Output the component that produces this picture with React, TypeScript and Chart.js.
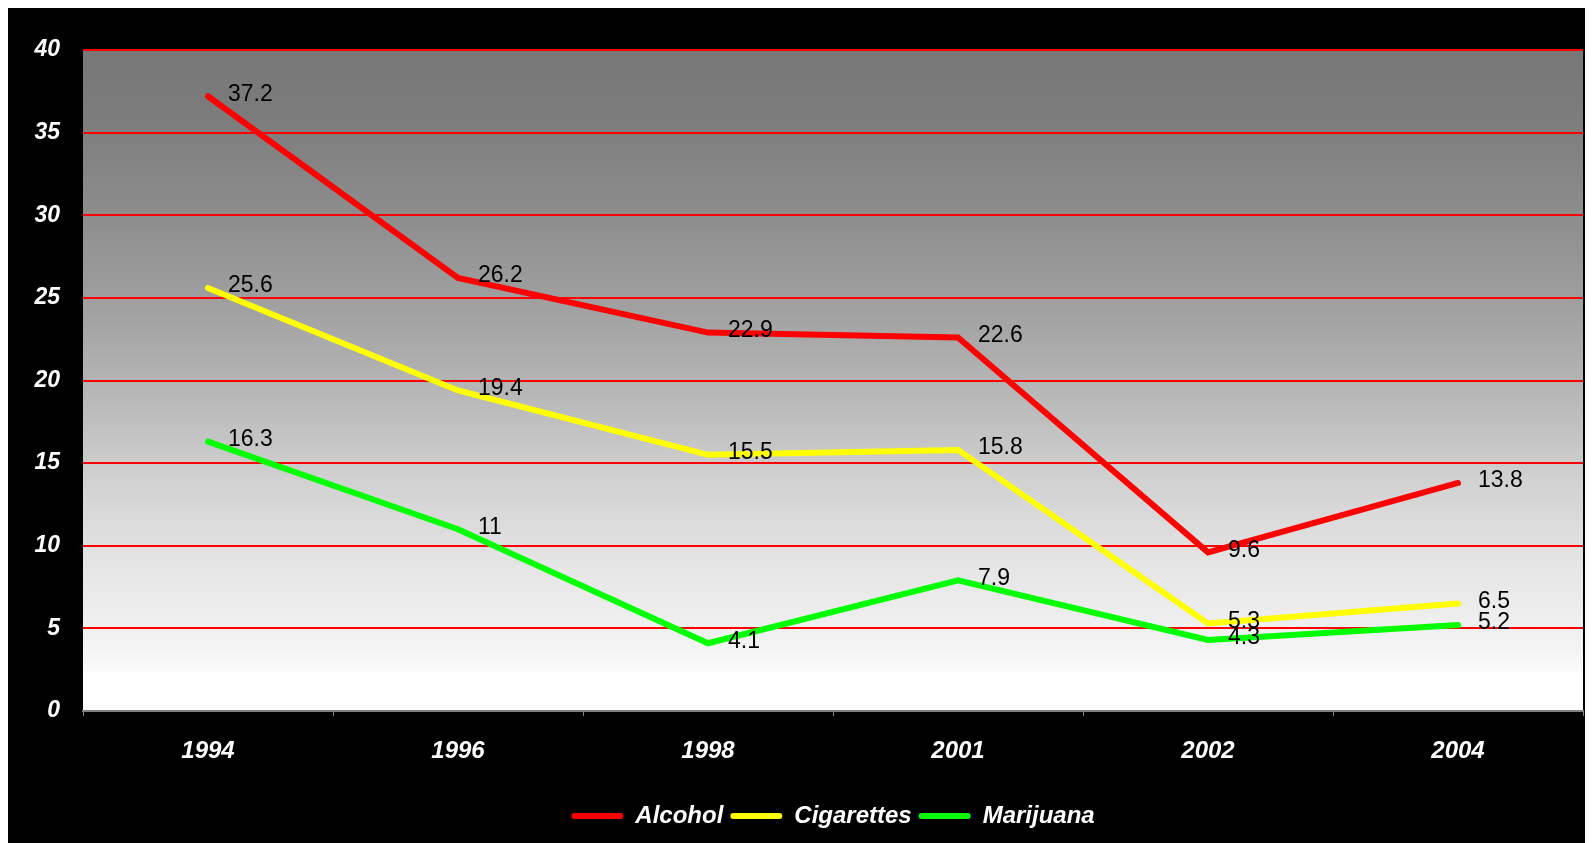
import React, { useEffect, useRef } from "react";
import { Chart, registerables } from "chart.js";

Chart.register(...registerables);

const years = ["1994", "1996", "1998", "2001", "2002", "2004"];
const alcohol = [37.2, 26.2, 22.9, 22.6, 9.6, 13.8];
const cigarettes = [25.6, 19.4, 15.5, 15.8, 5.3, 6.5];
const marijuana = [16.3, 11, 4.1, 7.9, 4.3, 5.2];
const yTicks = [0, 5, 10, 15, 20, 25, 30, 35, 40];

const FONT = "'Liberation Sans', Arial, sans-serif";

const bgPlugin = {
  id: "bgPlugin",
  beforeDraw(chart: any) {
    const { ctx, chartArea, width, height } = chart;
    ctx.save();
    ctx.fillStyle = "#000000";
    ctx.fillRect(0, 0, width, height);
    const { left, top, right, bottom } = chartArea;
    const g = ctx.createLinearGradient(0, top, 0, bottom);
    g.addColorStop(0, "#777777");
    g.addColorStop(0.1, "#7c7c7c");
    g.addColorStop(0.25, "#8d8d8d");
    g.addColorStop(0.4, "#a2a2a2");
    g.addColorStop(0.53, "#b9b9b9");
    g.addColorStop(0.65, "#d1d1d1");
    g.addColorStop(0.78, "#e5e5e5");
    g.addColorStop(0.9, "#f3f3f3");
    g.addColorStop(0.94, "#fafafa");
    g.addColorStop(0.941, "#ffffff");
    g.addColorStop(1, "#ffffff");
    ctx.fillStyle = g;
    ctx.fillRect(left, top, right - left, bottom - top);
    ctx.restore();
  },
};

const labelPlugin = {
  id: "labelPlugin",
  afterDatasetsDraw(chart: any) {
    const { ctx } = chart;
    ctx.save();
    ctx.font = `23px ${FONT}`;
    ctx.fillStyle = "#000000";
    ctx.textAlign = "left";
    ctx.textBaseline = "middle";
    chart.data.datasets.forEach((ds: any, i: number) => {
      const meta = chart.getDatasetMeta(i);
      meta.data.forEach((pt: any, j: number) => {
        ctx.fillText(String(ds.data[j]), pt.x + 20, pt.y - 2);
      });
    });
    ctx.restore();
  },
};

export default function App() {
  const ref = useRef<HTMLCanvasElement | null>(null);
  useEffect(() => {
    if (!ref.current) return;
    const mk = (label: string, data: number[], color: string) => ({
      label,
      data,
      borderColor: color,
      backgroundColor: color,
      borderWidth: 6,
      pointRadius: 0,
      pointHoverRadius: 0,
      borderCapStyle: "round",
      borderJoinStyle: "miter",
      tension: 0,
    });
    const chart = new Chart(ref.current, {
      type: "line",
      data: {
        labels: years,
        datasets: [
          mk("Alcohol", alcohol, "#ff0000"),
          mk("Cigarettes", cigarettes, "#ffff00"),
          mk("Marijuana", marijuana, "#00ff00"),
        ],
      },
      options: {
        animation: false,
        responsive: false,
        maintainAspectRatio: false,
        layout: { padding: { top: 42, right: 10, bottom: 5, left: 0 } },
        plugins: {
          tooltip: { enabled: false },
          legend: {
            position: "bottom",
            fullSize: false,
            labels: {
              color: "#ffffff",
              font: { family: FONT, size: 24, style: "italic", weight: "bold" },
              boxWidth: 52,
              boxHeight: 6,
              padding: 7,
              useBorderRadius: true,
              borderRadius: 3,
              generateLabels: (c: any) =>
                c.data.datasets.map((ds: any, i: number) => ({
                  text: ds.label,
                  fillStyle: ds.borderColor,
                  strokeStyle: ds.borderColor,
                  lineWidth: 0,
                  fontColor: "#ffffff",
                  datasetIndex: i,
                  hidden: false,
                  borderRadius: 3,
                })),
            },
          },
        },
        scales: {
          x: {
            type: "category",
            offset: true,
            grid: {
              display: true,
              drawOnChartArea: false,
              drawTicks: true,
              tickLength: 5,
              tickColor: "#808080",
              offset: true,
            },
            border: { display: true, color: "#808080", width: 2 },
            ticks: {
              color: "#ffffff",
              font: { family: FONT, size: 24, style: "italic", weight: "bold" },
              padding: 21,
              maxRotation: 0,
            },
            afterFit: (s: any) => {
              s.height = 86;
            },
          },
          y: {
            min: yTicks[0],
            max: yTicks[yTicks.length - 1],
            afterBuildTicks: (s: any) => {
              s.ticks = yTicks.map((v) => ({ value: v }));
            },
            grid: {
              color: (c: any) => (c.tick && c.tick.value === 0 ? "rgba(0,0,0,0)" : "#ff0000"),
              lineWidth: 2,
              drawTicks: false,
            },
            border: { display: false },
            ticks: {
              color: "#ffffff",
              font: { family: FONT, size: 23, style: "italic", weight: "bold" },
              padding: 23,
            },
            afterFit: (s: any) => {
              s.width = 75;
            },
          },
        },
      },
      plugins: [bgPlugin, labelPlugin],
    } as any);
    return () => chart.destroy();
  }, []);
  return (
    <div style={{ width: 1585, height: 835 }}>
      <canvas ref={ref} width={1585} height={835} style={{ display: "block" }} />
    </div>
  );
}
